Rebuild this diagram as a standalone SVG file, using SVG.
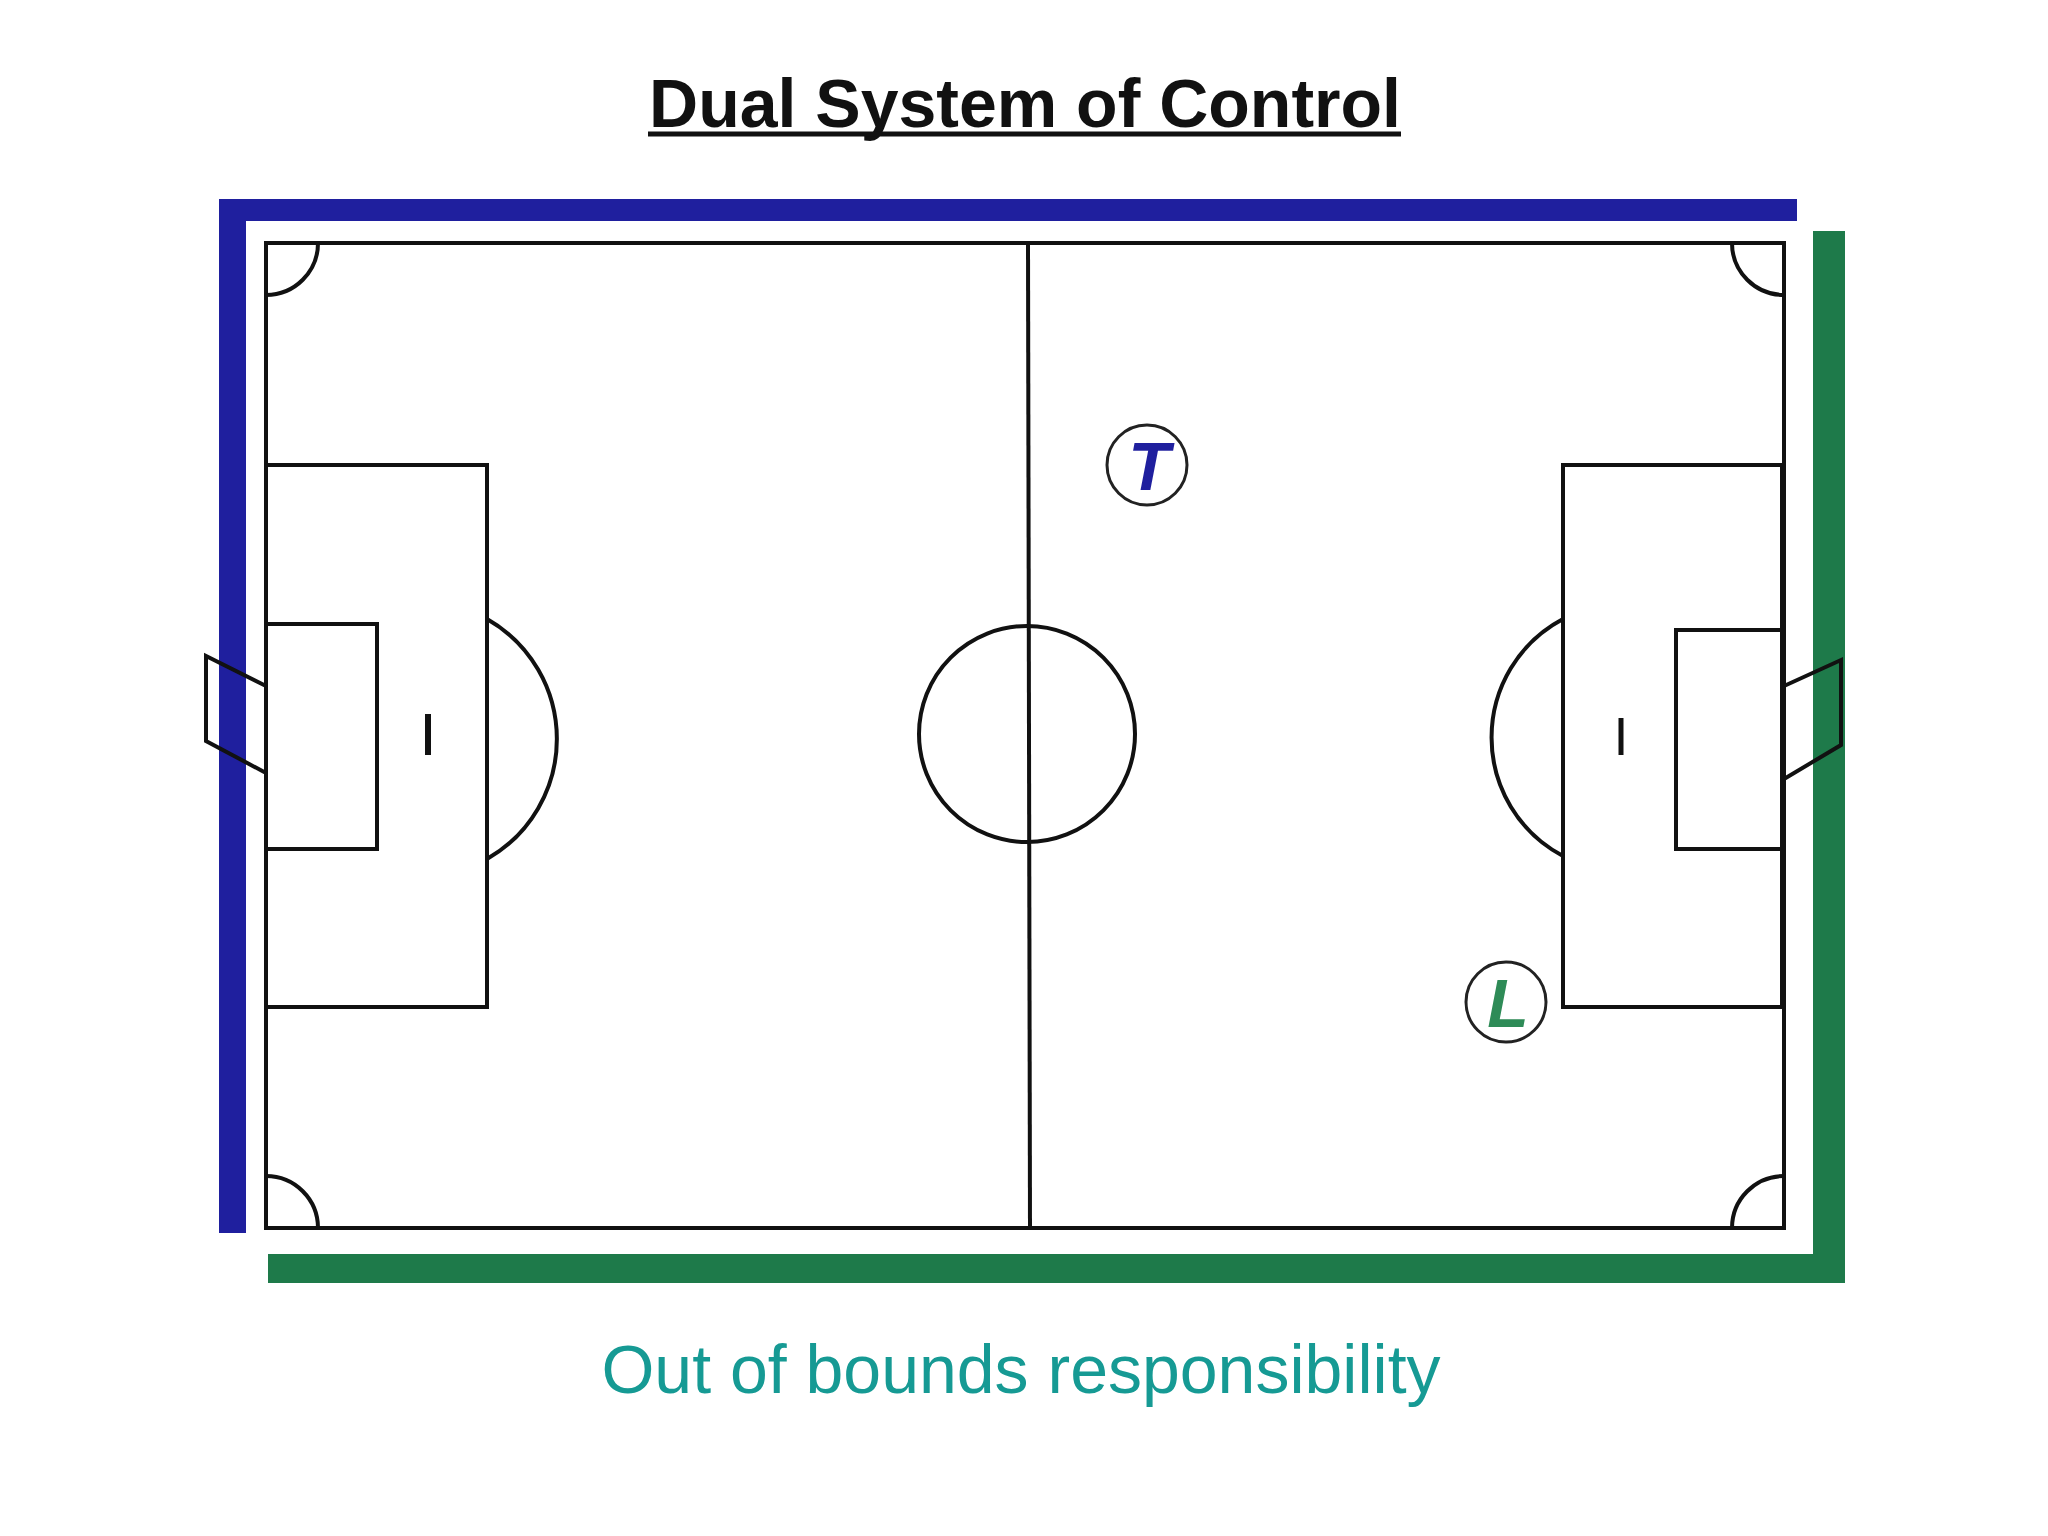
<svg xmlns="http://www.w3.org/2000/svg" width="2048" height="1536" viewBox="0 0 2048 1536">
<style>
.l{fill:none;stroke:#111;stroke-width:4}
.t{font-family:"Liberation Sans",Arial,sans-serif}
</style>
<rect width="2048" height="1536" fill="#fff"/>
<text class="t" x="1025" y="127" font-size="68" font-weight="bold" text-anchor="middle" fill="#111">Dual System of Control</text>
<line x1="648" y1="134" x2="1401" y2="134" stroke="#111" stroke-width="5"/>
<g id="blue">
<rect x="219" y="199" width="1578" height="22" fill="#1f1f9e"/>
<rect x="219" y="199" width="27" height="1034" fill="#1f1f9e"/>
</g>
<g id="green">
<rect x="1813" y="231" width="32" height="1045" fill="#1e7a4a"/>
<rect x="268" y="1254" width="1577" height="29" fill="#1e7a4a"/>
</g>
<g id="field">
<rect class="l" x="266" y="243" width="1518" height="985" fill="#fff"/>
<line class="l" x1="1028" y1="243" x2="1030" y2="1228"/>
<circle class="l" cx="1027" cy="734" r="108"/>
<rect class="l" x="266" y="465" width="221" height="542"/>
<rect class="l" x="266" y="624" width="111" height="225"/>
<line x1="428" y1="714" x2="428" y2="755" stroke="#111" stroke-width="6"/>
<path class="l" d="M487 619 A138 138 0 0 1 487 859"/>
<rect class="l" x="1563" y="465" width="219" height="542"/>
<rect class="l" x="1676" y="630" width="106" height="219"/>
<line x1="1621" y1="718" x2="1621" y2="755" stroke="#111" stroke-width="5"/>
<path class="l" d="M1563 619 A134 134 0 0 0 1563 856"/>
<path class="l" d="M266 686 L206 656 L206 741 L266 773"/>
<path class="l" d="M1784 686 L1841 660 L1841 745 L1784 779"/>
<path class="l" d="M266 295 A52 52 0 0 0 318 243"/>
<path class="l" d="M1732 243 A52 52 0 0 0 1784 295"/>
<path class="l" d="M266 1176 A52 52 0 0 1 318 1228"/>
<path class="l" d="M1732 1228 A52 52 0 0 1 1784 1176"/>
</g>
<g id="T">
<circle cx="1147" cy="465" r="40" fill="#fff" stroke="#222" stroke-width="3"/>
<text class="t" x="1149" y="490" font-size="68" font-weight="bold" font-style="italic" text-anchor="middle" fill="#1f1f9e">T</text>
</g>
<g id="L">
<circle cx="1506" cy="1002" r="40" fill="#fff" stroke="#222" stroke-width="3"/>
<text class="t" x="1508" y="1027" font-size="68" font-weight="bold" font-style="italic" text-anchor="middle" fill="#2e8b57">L</text>
</g>
<text class="t" x="1021" y="1393" font-size="68" text-anchor="middle" fill="#169a94">Out of bounds responsibility</text>
</svg>
